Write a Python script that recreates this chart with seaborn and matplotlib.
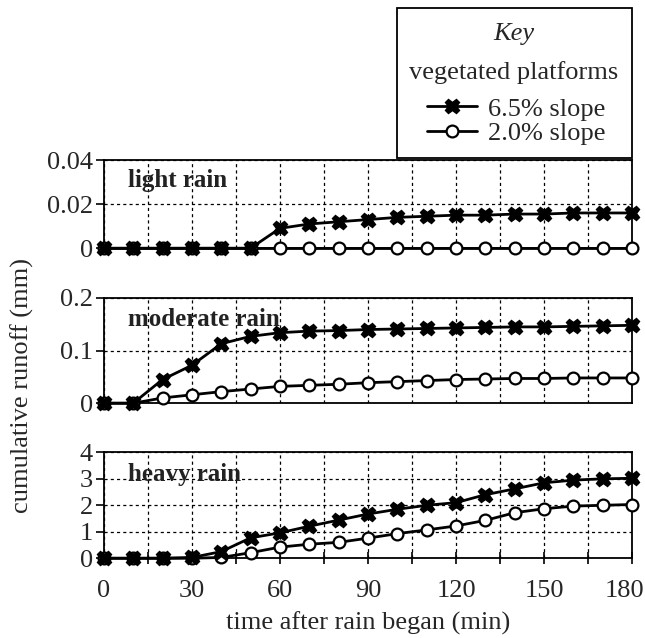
import matplotlib
matplotlib.use("Agg")
import matplotlib.pyplot as plt
from matplotlib.patches import Rectangle
from matplotlib.lines import Line2D
from matplotlib.transforms import ScaledTranslation
import seaborn as sns
import pandas as pd

sns.set_theme(style="white")
plt.rcParams['font.family'] = ['Liberation Serif', 'DejaVu Serif']

time_min = [0, 10, 20, 30, 40, 50, 60, 70, 80, 90, 100, 110, 120, 130, 140, 150, 160, 170, 180]

light_65 = [0, 0, 0, 0, 0, 0, 0.009, 0.011, 0.012, 0.013, 0.014, 0.0145, 0.015, 0.015, 0.0155, 0.0155, 0.016, 0.016, 0.016]
light_20 = [0] * 19

moderate_65 = [0, 0, 0.045, 0.072, 0.113, 0.127, 0.134, 0.137, 0.138, 0.14, 0.141, 0.142, 0.143, 0.144, 0.145, 0.145, 0.146, 0.147, 0.148]
moderate_20 = [0, 0, 0.01, 0.016, 0.022, 0.027, 0.032, 0.034, 0.036, 0.039, 0.041, 0.043, 0.045, 0.046, 0.047, 0.047, 0.048, 0.048, 0.048]

heavy_65 = [0, 0, 0, 0.03, 0.25, 0.77, 0.96, 1.21, 1.44, 1.67, 1.85, 2.0, 2.1, 2.4, 2.62, 2.85, 2.95, 3.0, 3.02]
heavy_20 = [0, 0, 0, 0, 0.03, 0.21, 0.42, 0.53, 0.6, 0.76, 0.93, 1.07, 1.22, 1.43, 1.72, 1.87, 1.97, 2.0, 2.03]

panel_titles = ["light rain", "moderate rain", "heavy rain"]
slope_labels = ["6.5% slope", "2.0% slope"]
y_ticks = [[0, 0.02, 0.04], [0, 0.1, 0.2], [0, 1, 2, 3, 4]]
y_ticklabels = [["0", "0.02", "0.04"], ["0", "0.1", "0.2"], ["0", "1", "2", "3", "4"]]
x_ticks = [0, 30, 60, 90, 120, 150, 180]

series = [(light_65, light_20), (moderate_65, moderate_20), (heavy_65, heavy_20)]

rows = []
for title, (s65, s20) in zip(panel_titles, series):
    for t, v in zip(time_min, s65):
        rows.append({"rain": title, "slope": slope_labels[0], "time": t, "runoff": v})
    for t, v in zip(time_min, s20):
        rows.append({"rain": title, "slope": slope_labels[1], "time": t, "runoff": v})
df = pd.DataFrame(rows)

fig = plt.figure(figsize=(6.45, 6.38), dpi=100)
fig.patch.set_facecolor("white")

L, W = 0.161, 0.819
positions = [(L, 0.611, W, 0.138), (L, 0.368, W, 0.165), (L, 0.125, W, 0.166)]

styles = {
    slope_labels[0]: dict(marker="X", markersize=10.5, markerfacecolor="black", markeredgecolor="black", markeredgewidth=1.0),
    slope_labels[1]: dict(marker="o", markersize=8.5, markerfacecolor="white", markeredgecolor="black", markeredgewidth=1.6),
}

FS = 18

axes = []
for i, (title, pos) in enumerate(zip(panel_titles, positions)):
    ax = fig.add_axes(pos)
    axes.append(ax)
    sub = df[df["rain"] == title]
    for slope in [slope_labels[1], slope_labels[0]]:
        d = sub[sub["slope"] == slope]
        sns.lineplot(data=d, x="time", y="runoff", ax=ax, color="black", linewidth=2.0,
                     errorbar=None, clip_on=False, zorder=5, **styles[slope])
    ax.set_xlim(0, 180)
    ax.set_ylim(y_ticks[i][0], y_ticks[i][-1])
    ax.set_yticks(y_ticks[i])
    ax.set_yticklabels(y_ticklabels[i])
    ax.set_xticks(x_ticks)
    ax.set_xticks([15, 45, 75, 105, 135, 165], minor=True)
    ax.grid(True, which="both", axis="x", color="black", linestyle=(0, (2.5, 2.5)), linewidth=0.9)
    ax.grid(True, which="major", axis="y", color="black", linestyle=(0, (2.5, 2.5)), linewidth=0.9)
    ax.set_xlabel("")
    ax.set_ylabel("")
    for sp in ax.spines.values():
        sp.set_visible(True)
        sp.set_color("black")
        sp.set_linewidth(1.3)
    ax.tick_params(axis="y", which="major", direction="out", length=6, width=1.2, color="black",
                   labelsize=FS + 1, pad=2, left=True)
    ax.text(0.045, 0.90, title, transform=ax.transAxes, fontsize=FS, fontweight="bold",
            va="top", ha="left", color="#222222", zorder=10)
    if i < 2:
        ax.tick_params(axis="x", which="both", bottom=False, labelbottom=False)
    else:
        ax.tick_params(axis="x", which="both", direction="inout", length=9, width=1.2,
                       color="black", labelsize=FS + 1, bottom=True, pad=11)
        ax.set_xlabel("time after rain began (min)", fontsize=FS + 1, labelpad=7)
        last = ax.get_xticklabels()[-1]
        last.set_transform(last.get_transform() + ScaledTranslation(-8 / 100, 0, fig.dpi_scale_trans))

fig.text(0.034, 0.395, "cumulative runoff (mm)", rotation=90, fontsize=FS + 1,
         ha="center", va="center")

# Key box
fig.patches.append(Rectangle((0.616, 0.752), 0.364, 0.236, transform=fig.transFigure,
                             fill=False, edgecolor="black", linewidth=1.3))
fig.text(0.797, 0.947, "Key", fontsize=FS + 1, style="italic", ha="center", va="center")
fig.text(0.797, 0.886, "vegetated platforms", fontsize=FS + 1, ha="center", va="center")
handles = [Line2D([0], [0], color="black", linewidth=2.0, **styles[slope_labels[0]]),
           Line2D([0], [0], color="black", linewidth=2.0, **styles[slope_labels[1]])]
fig.legend(handles, slope_labels, loc="center", bbox_to_anchor=(0.800, 0.810),
           frameon=False, fontsize=FS + 1, handlelength=1.9, handletextpad=0.4,
           labelspacing=0.05, borderpad=0.0)

fig.savefig("out.png", dpi=100, facecolor="white")
